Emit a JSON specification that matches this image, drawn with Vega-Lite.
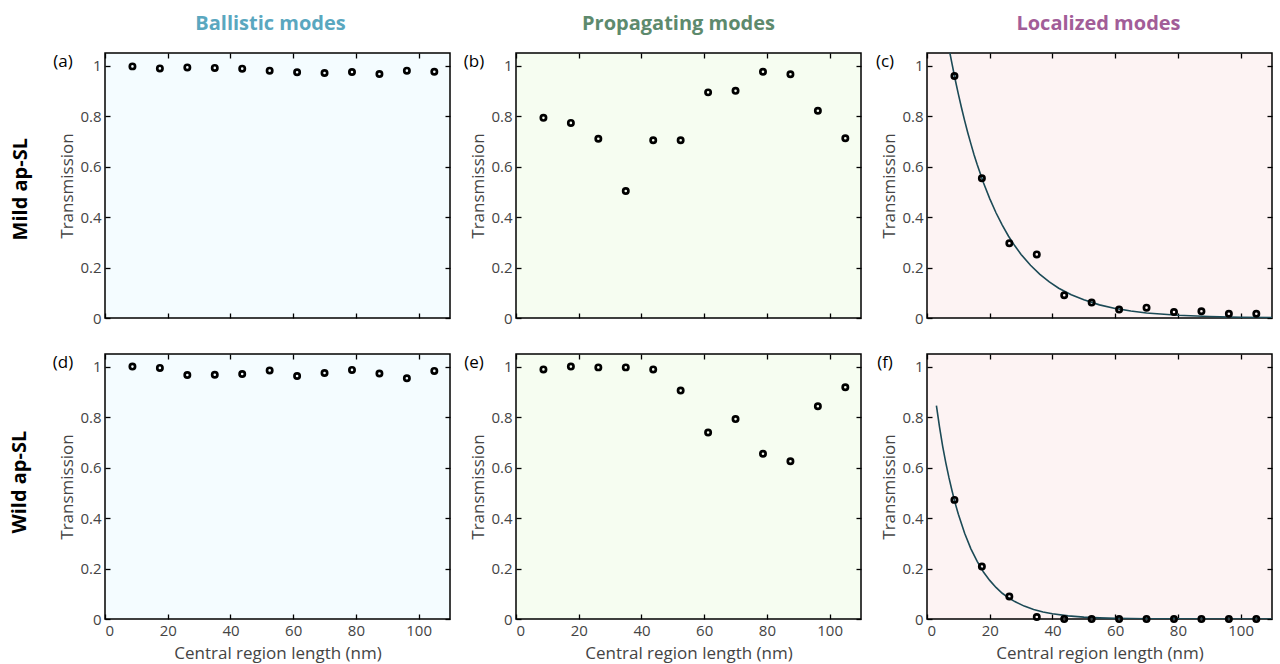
{
  "$schema": "https://vega.github.io/schema/vega-lite/v6.json",
  "background": "white",
  "padding": {"left": 10, "top": 13, "right": 2, "bottom": 2},
  "datasets": {
    "a": [
      {"length": 8.75, "T": 0.997}, {"length": 17.5, "T": 0.989}, {"length": 26.25, "T": 0.993}, {"length": 35, "T": 0.991},
      {"length": 43.75, "T": 0.988}, {"length": 52.5, "T": 0.980}, {"length": 61.25, "T": 0.974}, {"length": 70, "T": 0.971},
      {"length": 78.75, "T": 0.975}, {"length": 87.5, "T": 0.967}, {"length": 96.25, "T": 0.980}, {"length": 105, "T": 0.976}
    ],
    "b": [
      {"length": 8.75, "T": 0.793}, {"length": 17.5, "T": 0.773}, {"length": 26.25, "T": 0.710}, {"length": 35, "T": 0.503},
      {"length": 43.75, "T": 0.704}, {"length": 52.5, "T": 0.704}, {"length": 61.25, "T": 0.894}, {"length": 70, "T": 0.900},
      {"length": 78.75, "T": 0.976}, {"length": 87.5, "T": 0.966}, {"length": 96.25, "T": 0.821}, {"length": 105, "T": 0.712}
    ],
    "c": [
      {"length": 8.75, "T": 0.959}, {"length": 17.5, "T": 0.554}, {"length": 26.25, "T": 0.296}, {"length": 35, "T": 0.252},
      {"length": 43.75, "T": 0.090}, {"length": 52.5, "T": 0.061}, {"length": 61.25, "T": 0.034}, {"length": 70, "T": 0.041},
      {"length": 78.75, "T": 0.024}, {"length": 87.5, "T": 0.027}, {"length": 96.25, "T": 0.017}, {"length": 105, "T": 0.017}
    ],
    "d": [
      {"length": 8.75, "T": 1.0}, {"length": 17.5, "T": 0.995}, {"length": 26.25, "T": 0.967}, {"length": 35, "T": 0.968},
      {"length": 43.75, "T": 0.971}, {"length": 52.5, "T": 0.985}, {"length": 61.25, "T": 0.963}, {"length": 70, "T": 0.975},
      {"length": 78.75, "T": 0.987}, {"length": 87.5, "T": 0.973}, {"length": 96.25, "T": 0.954}, {"length": 105, "T": 0.983}
    ],
    "e": [
      {"length": 8.75, "T": 0.989}, {"length": 17.5, "T": 1.0}, {"length": 26.25, "T": 0.997}, {"length": 35, "T": 0.997},
      {"length": 43.75, "T": 0.989}, {"length": 52.5, "T": 0.905}, {"length": 61.25, "T": 0.739}, {"length": 70, "T": 0.792},
      {"length": 78.75, "T": 0.655}, {"length": 87.5, "T": 0.625}, {"length": 96.25, "T": 0.843}, {"length": 105, "T": 0.918}
    ],
    "f": [
      {"length": 8.75, "T": 0.472}, {"length": 17.5, "T": 0.208}, {"length": 26.25, "T": 0.089}, {"length": 35, "T": 0.008},
      {"length": 43.75, "T": 0.0}, {"length": 52.5, "T": 0.0}, {"length": 61.25, "T": 0.0}, {"length": 70, "T": 0.0},
      {"length": 78.75, "T": 0.0}, {"length": 87.5, "T": 0.0}, {"length": 96.25, "T": 0.0}, {"length": 105, "T": 0.0}
    ],
    "cfit": [
      {"length": 7.3, "T": 1.05}, {"length": 8, "T": 1.006}, {"length": 9, "T": 0.944}, {"length": 10, "T": 0.887},
      {"length": 11, "T": 0.833}, {"length": 12, "T": 0.782}, {"length": 13, "T": 0.734}, {"length": 14, "T": 0.690},
      {"length": 15, "T": 0.647}, {"length": 16, "T": 0.608}, {"length": 18, "T": 0.536}, {"length": 20, "T": 0.473},
      {"length": 22, "T": 0.417}, {"length": 24, "T": 0.368}, {"length": 26, "T": 0.324}, {"length": 28, "T": 0.286},
      {"length": 30, "T": 0.252}, {"length": 33, "T": 0.209}, {"length": 36, "T": 0.173}, {"length": 39, "T": 0.143},
      {"length": 42, "T": 0.118}, {"length": 46, "T": 0.092}, {"length": 50, "T": 0.072}, {"length": 55, "T": 0.052},
      {"length": 60, "T": 0.038}, {"length": 65, "T": 0.028}, {"length": 70, "T": 0.020}, {"length": 80, "T": 0.011},
      {"length": 90, "T": 0.006}, {"length": 100, "T": 0.003}, {"length": 110, "T": 0.0016}
    ],
    "ffit": [
      {"length": 3, "T": 0.845}, {"length": 4, "T": 0.760}, {"length": 5, "T": 0.684}, {"length": 6, "T": 0.619},
      {"length": 7, "T": 0.560}, {"length": 8, "T": 0.507}, {"length": 9, "T": 0.458}, {"length": 10, "T": 0.415},
      {"length": 12, "T": 0.340}, {"length": 14, "T": 0.278}, {"length": 16, "T": 0.228}, {"length": 18, "T": 0.186},
      {"length": 20, "T": 0.153}, {"length": 22, "T": 0.125}, {"length": 24, "T": 0.102}, {"length": 26, "T": 0.084},
      {"length": 28, "T": 0.069}, {"length": 31, "T": 0.051}, {"length": 34, "T": 0.038}, {"length": 37, "T": 0.028},
      {"length": 40, "T": 0.021}, {"length": 45, "T": 0.0125}, {"length": 50, "T": 0.0076}, {"length": 55, "T": 0.0046},
      {"length": 60, "T": 0.0028}, {"length": 70, "T": 0.001}, {"length": 80, "T": 0.0004}, {"length": 90, "T": 0.0001},
      {"length": 100, "T": 0.00005}, {"length": 110, "T": 0.00002}
    ]
  },
  "spacing": 25,
  "vconcat": [
    {
      "bounds": "flush",
      "spacing": 66,
      "title": {"text": "Mild ap-SL", "orient": "left", "anchor": "middle", "dx": -19, "fontSize": 20, "fontWeight": "bold", "color": "black", "font": "Open Sans", "offset": 22},
      "hconcat": [
        {
          "width": 345, "height": 265,
          "title": {"text": "Ballistic modes", "color": "#5aa7bf", "anchor": "middle", "frame": "group", "dx": -7, "fontSize": 20, "fontWeight": "bold", "font": "Open Sans", "offset": 18},
          "view": {"fill": "#f4fcff", "stroke": "black", "strokeWidth": 1.5},
          "layer": [
            {"data": {"name": "a"}, "mark": {"type": "point", "shape": "circle", "filled": false, "color": "black", "strokeWidth": 2.7, "size": 28, "opacity": 1},
             "encoding": {
               "x": {"field": "length", "type": "quantitative", "scale": {"domain": [0, 110], "nice": false}, "axis": {"orient": "bottom", "values": [0, 20, 40, 60, 80, 100], "labels": false, "title": null}},
               "y": {"field": "T", "type": "quantitative", "scale": {"domain": [0, 1.05], "nice": false}, "axis": {"orient": "left", "values": [0, 0.2, 0.4, 0.6, 0.8, 1], "format": "~g", "title": "Transmission"}}}},
            {"data": {"name": "a"}, "mark": {"type": "point", "opacity": 0},
             "encoding": {
               "x": {"field": "length", "type": "quantitative", "axis": {"orient": "top", "values": [0, 20, 40, 60, 80, 100], "labels": false, "title": null}},
               "y": {"field": "T", "type": "quantitative", "axis": {"orient": "right", "values": [0, 0.2, 0.4, 0.6, 0.8, 1], "labels": false, "title": null}}}},
            {"data": {"values": [{"label": "(a)"}]}, "mark": {"type": "text", "dx": -42, "dy": 9, "fontSize": 17, "font": "Open Sans", "color": "black", "align": "center", "baseline": "middle"},
             "encoding": {"x": {"datum": 0, "type": "quantitative", "axis": null}, "y": {"datum": 1.05, "type": "quantitative", "axis": null}, "text": {"field": "label"}}}
          ],
          "resolve": {"axis": {"x": "independent", "y": "independent"}}
        },
        {
          "width": 345, "height": 265,
          "title": {"text": "Propagating modes", "color": "#5d8a6d", "anchor": "middle", "frame": "group", "dx": -10, "fontSize": 20, "fontWeight": "bold", "font": "Open Sans", "offset": 18},
          "view": {"fill": "#f6fdf1", "stroke": "black", "strokeWidth": 1.5},
          "layer": [
            {"data": {"name": "b"}, "mark": {"type": "point", "shape": "circle", "filled": false, "color": "black", "strokeWidth": 2.7, "size": 28, "opacity": 1},
             "encoding": {
               "x": {"field": "length", "type": "quantitative", "scale": {"domain": [0, 110], "nice": false}, "axis": {"orient": "bottom", "values": [0, 20, 40, 60, 80, 100], "labels": false, "title": null}},
               "y": {"field": "T", "type": "quantitative", "scale": {"domain": [0, 1.05], "nice": false}, "axis": {"orient": "left", "values": [0, 0.2, 0.4, 0.6, 0.8, 1], "format": "~g", "title": "Transmission"}}}},
            {"data": {"name": "b"}, "mark": {"type": "point", "opacity": 0},
             "encoding": {
               "x": {"field": "length", "type": "quantitative", "axis": {"orient": "top", "values": [0, 20, 40, 60, 80, 100], "labels": false, "title": null}},
               "y": {"field": "T", "type": "quantitative", "axis": {"orient": "right", "values": [0, 0.2, 0.4, 0.6, 0.8, 1], "labels": false, "title": null}}}},
            {"data": {"values": [{"label": "(b)"}]}, "mark": {"type": "text", "dx": -42, "dy": 9, "fontSize": 17, "font": "Open Sans", "color": "black", "align": "center", "baseline": "middle"},
             "encoding": {"x": {"datum": 0, "type": "quantitative", "axis": null}, "y": {"datum": 1.05, "type": "quantitative", "axis": null}, "text": {"field": "label"}}}
          ],
          "resolve": {"axis": {"x": "independent", "y": "independent"}}
        },
        {
          "width": 345, "height": 265,
          "title": {"text": "Localized modes", "color": "#a25d98", "anchor": "middle", "frame": "group", "dx": -1, "fontSize": 20, "fontWeight": "bold", "font": "Open Sans", "offset": 18},
          "view": {"fill": "#fdf3f3", "stroke": "black", "strokeWidth": 1.5},
          "layer": [
            {"data": {"name": "cfit"}, "mark": {"type": "line", "color": "#1c4a56", "strokeWidth": 1.6, "clip": true},
             "encoding": {
               "x": {"field": "length", "type": "quantitative", "scale": {"domain": [0, 110], "nice": false}, "axis": null},
               "y": {"field": "T", "type": "quantitative", "scale": {"domain": [0, 1.05], "nice": false}, "axis": null}}},
            {"data": {"name": "c"}, "mark": {"type": "point", "shape": "circle", "filled": false, "color": "black", "strokeWidth": 2.7, "size": 28, "opacity": 1},
             "encoding": {
               "x": {"field": "length", "type": "quantitative", "axis": {"orient": "bottom", "values": [0, 20, 40, 60, 80, 100], "labels": false, "title": null}},
               "y": {"field": "T", "type": "quantitative", "axis": {"orient": "left", "values": [0, 0.2, 0.4, 0.6, 0.8, 1], "format": "~g", "title": "Transmission"}}}},
            {"data": {"name": "c"}, "mark": {"type": "point", "opacity": 0},
             "encoding": {
               "x": {"field": "length", "type": "quantitative", "axis": {"orient": "top", "values": [0, 20, 40, 60, 80, 100], "labels": false, "title": null}},
               "y": {"field": "T", "type": "quantitative", "axis": {"orient": "right", "values": [0, 0.2, 0.4, 0.6, 0.8, 1], "labels": false, "title": null}}}},
            {"data": {"values": [{"label": "(c)"}]}, "mark": {"type": "text", "dx": -42, "dy": 9, "fontSize": 17, "font": "Open Sans", "color": "black", "align": "center", "baseline": "middle"},
             "encoding": {"x": {"datum": 0, "type": "quantitative", "axis": null}, "y": {"datum": 1.05, "type": "quantitative", "axis": null}, "text": {"field": "label"}}}
          ],
          "resolve": {"axis": {"x": "independent", "y": "independent"}}
        }
      ]
    },
    {
      "bounds": "flush",
      "spacing": 66,
      "title": {"text": "Wild ap-SL", "orient": "left", "anchor": "middle", "dx": 25, "fontSize": 20, "fontWeight": "bold", "color": "black", "font": "Open Sans", "offset": 22},
      "hconcat": [
        {
          "width": 345, "height": 265,
          "view": {"fill": "#f4fcff", "stroke": "black", "strokeWidth": 1.5},
          "layer": [
            {"data": {"name": "d"}, "mark": {"type": "point", "shape": "circle", "filled": false, "color": "black", "strokeWidth": 2.7, "size": 28, "opacity": 1},
             "encoding": {
               "x": {"field": "length", "type": "quantitative", "scale": {"domain": [0, 110], "nice": false}, "axis": {"orient": "bottom", "values": [0, 20, 40, 60, 80, 100], "title": "Central region length (nm)"}},
               "y": {"field": "T", "type": "quantitative", "scale": {"domain": [0, 1.05], "nice": false}, "axis": {"orient": "left", "values": [0, 0.2, 0.4, 0.6, 0.8, 1], "format": "~g", "title": "Transmission"}}}},
            {"data": {"name": "d"}, "mark": {"type": "point", "opacity": 0},
             "encoding": {
               "x": {"field": "length", "type": "quantitative", "axis": {"orient": "top", "values": [0, 20, 40, 60, 80, 100], "labels": false, "title": null}},
               "y": {"field": "T", "type": "quantitative", "axis": {"orient": "right", "values": [0, 0.2, 0.4, 0.6, 0.8, 1], "labels": false, "title": null}}}},
            {"data": {"values": [{"label": "(d)"}]}, "mark": {"type": "text", "dx": -42, "dy": 9, "fontSize": 17, "font": "Open Sans", "color": "black", "align": "center", "baseline": "middle"},
             "encoding": {"x": {"datum": 0, "type": "quantitative", "axis": null}, "y": {"datum": 1.05, "type": "quantitative", "axis": null}, "text": {"field": "label"}}}
          ],
          "resolve": {"axis": {"x": "independent", "y": "independent"}}
        },
        {
          "width": 345, "height": 265,
          "view": {"fill": "#f6fdf1", "stroke": "black", "strokeWidth": 1.5},
          "layer": [
            {"data": {"name": "e"}, "mark": {"type": "point", "shape": "circle", "filled": false, "color": "black", "strokeWidth": 2.7, "size": 28, "opacity": 1},
             "encoding": {
               "x": {"field": "length", "type": "quantitative", "scale": {"domain": [0, 110], "nice": false}, "axis": {"orient": "bottom", "values": [0, 20, 40, 60, 80, 100], "title": "Central region length (nm)"}},
               "y": {"field": "T", "type": "quantitative", "scale": {"domain": [0, 1.05], "nice": false}, "axis": {"orient": "left", "values": [0, 0.2, 0.4, 0.6, 0.8, 1], "format": "~g", "title": "Transmission"}}}},
            {"data": {"name": "e"}, "mark": {"type": "point", "opacity": 0},
             "encoding": {
               "x": {"field": "length", "type": "quantitative", "axis": {"orient": "top", "values": [0, 20, 40, 60, 80, 100], "labels": false, "title": null}},
               "y": {"field": "T", "type": "quantitative", "axis": {"orient": "right", "values": [0, 0.2, 0.4, 0.6, 0.8, 1], "labels": false, "title": null}}}},
            {"data": {"values": [{"label": "(e)"}]}, "mark": {"type": "text", "dx": -42, "dy": 9, "fontSize": 17, "font": "Open Sans", "color": "black", "align": "center", "baseline": "middle"},
             "encoding": {"x": {"datum": 0, "type": "quantitative", "axis": null}, "y": {"datum": 1.05, "type": "quantitative", "axis": null}, "text": {"field": "label"}}}
          ],
          "resolve": {"axis": {"x": "independent", "y": "independent"}}
        },
        {
          "width": 345, "height": 265,
          "view": {"fill": "#fdf3f3", "stroke": "black", "strokeWidth": 1.5},
          "layer": [
            {"data": {"name": "ffit"}, "mark": {"type": "line", "color": "#1c4a56", "strokeWidth": 1.6, "clip": true},
             "encoding": {
               "x": {"field": "length", "type": "quantitative", "scale": {"domain": [0, 110], "nice": false}, "axis": null},
               "y": {"field": "T", "type": "quantitative", "scale": {"domain": [0, 1.05], "nice": false}, "axis": null}}},
            {"data": {"name": "f"}, "mark": {"type": "point", "shape": "circle", "filled": false, "color": "black", "strokeWidth": 2.7, "size": 28, "opacity": 1},
             "encoding": {
               "x": {"field": "length", "type": "quantitative", "axis": {"orient": "bottom", "values": [0, 20, 40, 60, 80, 100], "title": "Central region length (nm)"}},
               "y": {"field": "T", "type": "quantitative", "axis": {"orient": "left", "values": [0, 0.2, 0.4, 0.6, 0.8, 1], "format": "~g", "title": "Transmission"}}}},
            {"data": {"name": "f"}, "mark": {"type": "point", "opacity": 0},
             "encoding": {
               "x": {"field": "length", "type": "quantitative", "axis": {"orient": "top", "values": [0, 20, 40, 60, 80, 100], "labels": false, "title": null}},
               "y": {"field": "T", "type": "quantitative", "axis": {"orient": "right", "values": [0, 0.2, 0.4, 0.6, 0.8, 1], "labels": false, "title": null}}}},
            {"data": {"values": [{"label": "(f)"}]}, "mark": {"type": "text", "dx": -42, "dy": 9, "fontSize": 17, "font": "Open Sans", "color": "black", "align": "center", "baseline": "middle"},
             "encoding": {"x": {"datum": 0, "type": "quantitative", "axis": null}, "y": {"datum": 1.05, "type": "quantitative", "axis": null}, "text": {"field": "label"}}}
          ],
          "resolve": {"axis": {"x": "independent", "y": "independent"}}
        }
      ]
    }
  ],
  "config": {
    "font": "Open Sans",
    "view": {"stroke": "black", "strokeWidth": 1.5},
    "axis": {
      "domain": false,
      "grid": false,
      "ticks": true,
      "tickSize": -5,
      "tickColor": "black",
      "tickWidth": 1.3,
      "labelFont": "Open Sans",
      "labelFontSize": 15,
      "labelColor": "#444444",
      "labelPadding": 9,
      "titleFont": "Open Sans",
      "titleFontSize": 17,
      "titleFontWeight": "normal",
      "titleColor": "#444444"
    },
    "axisY": {"titlePadding": 3},
    "axisX": {"titlePadding": 7}
  }
}
